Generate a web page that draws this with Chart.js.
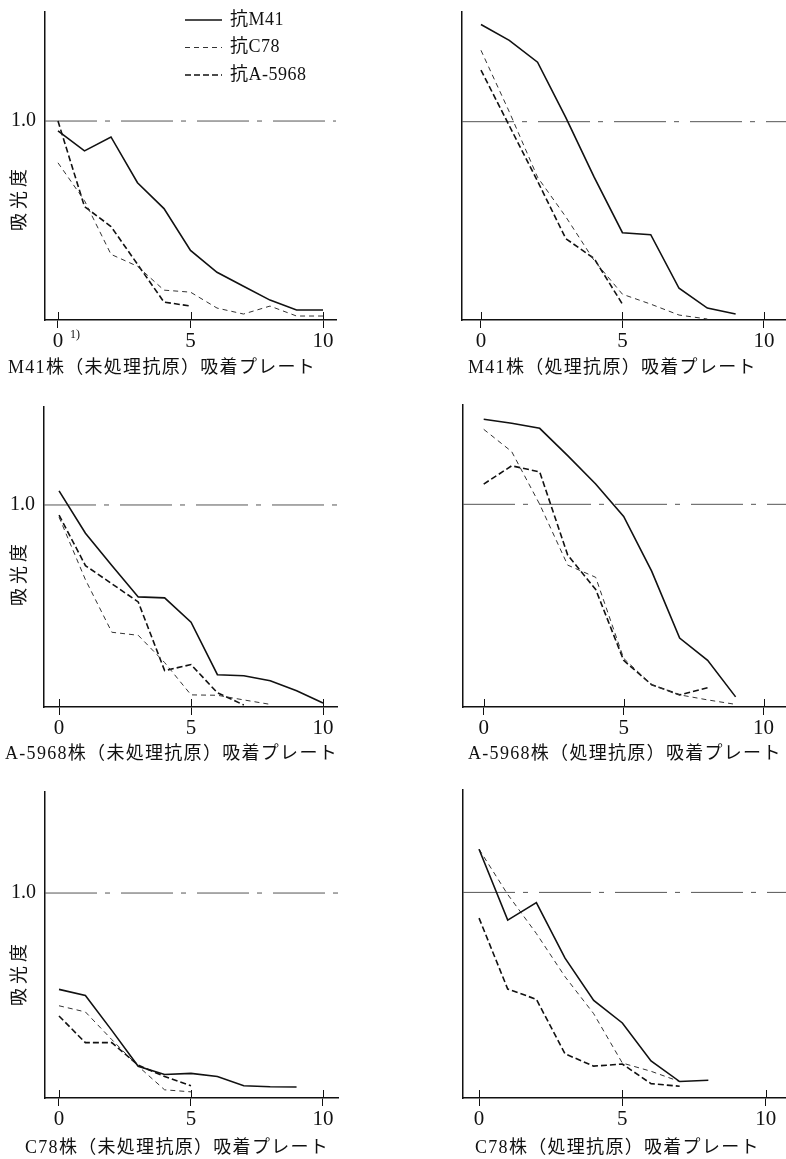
<!DOCTYPE html>
<html lang="ja">
<head>
<meta charset="utf-8">
<title>吸光度 / 吸着プレート</title>
<script src="https://cdn.jsdelivr.net/npm/chart.js@4.4.1/dist/chart.umd.min.js"></script>
<style>
  html, body { margin: 0; padding: 0; background: #fff; }
  body { width: 786px; height: 1159px; position: relative; overflow: hidden; }
  canvas { position: absolute; }
</style>
</head>
<body>
<canvas id="c1"></canvas>
<canvas id="c2"></canvas>
<canvas id="c3"></canvas>
<canvas id="c4"></canvas>
<canvas id="c5"></canvas>
<canvas id="c6"></canvas>
<script>
'use strict';

// x = plate number (0, 1, 2 ...), y = absorbance
const xTicks = [0, 5, 10];
const refLevel = 1.0;
const yTickLabel = '1.0';
const yTitle = '吸光度';
const seriesNames = ['抗M41', '抗C78', '抗A-5968'];
const plateTitles = [
  'M41株（未処理抗原）吸着プレート',
  'M41株（処理抗原）吸着プレート',
  'A-5968株（未処理抗原）吸着プレート',
  'A-5968株（処理抗原）吸着プレート',
  'C78株（未処理抗原）吸着プレート',
  'C78株（処理抗原）吸着プレート'
];

// M41 untreated
const p1M41   = [0.95, 0.85, 0.92, 0.69, 0.56, 0.35, 0.24, 0.17, 0.10, 0.05, 0.05];
const p1C78   = [0.79, 0.60, 0.33, 0.27, 0.15, 0.14, 0.06, 0.03, 0.07, 0.02, 0.02];
const p1A5968 = [1.00, 0.57, 0.47, 0.28, 0.09, 0.07];
// M41 treated
const p2M41   = [1.49, 1.41, 1.30, 1.02, 0.72, 0.44, 0.43, 0.16, 0.06, 0.03];
const p2C78   = [1.36, 1.05, 0.72, 0.52, 0.30, 0.13, 0.08, 0.025, 0.005];
const p2A5968 = [1.26, 0.98, 0.70, 0.41, 0.31, 0.08];
// A-5968 untreated
const p3M41   = [1.07, 0.86, 0.70, 0.545, 0.54, 0.42, 0.16, 0.155, 0.13, 0.08, 0.02];
const p3C78   = [0.94, 0.63, 0.37, 0.355, 0.22, 0.06, 0.058, 0.035, 0.013];
const p3A5968 = [0.95, 0.70, 0.61, 0.52, 0.18, 0.21, 0.07, 0.01];
// A-5968 treated
const p4M41   = [1.42, 1.40, 1.375, 1.24, 1.10, 0.94, 0.67, 0.34, 0.23, 0.05];
const p4C78   = [1.37, 1.26, 1.00, 0.70, 0.64, 0.24, 0.11, 0.06, 0.035, 0.013];
const p4A5968 = [1.10, 1.19, 1.16, 0.75, 0.58, 0.23, 0.11, 0.06, 0.095];
// C78 untreated
const p5M41   = [0.53, 0.50, 0.33, 0.155, 0.115, 0.12, 0.105, 0.06, 0.055, 0.054];
const p5C78   = [0.45, 0.42, 0.285, 0.155, 0.04, 0.03];
const p5A5968 = [0.40, 0.27, 0.27, 0.16, 0.105, 0.06];
// C78 treated
const p6M41   = [1.21, 0.865, 0.95, 0.68, 0.475, 0.365, 0.18, 0.08, 0.086];
const p6C78   = [1.21, 0.99, 0.80, 0.59, 0.41, 0.17, 0.13, 0.08];
const p6A5968 = [0.875, 0.53, 0.48, 0.215, 0.155, 0.165, 0.07, 0.057];

var SERIF = '"Liberation Serif", "DejaVu Serif", "Noto Sans CJK JP", serif';
var INK = '#111';
var X_AXIS_H = 40;   // room below the plot for tick labels

var lineStyles = [
  { color: '#111', width: 1.6, dash: [] },
  { color: '#333', width: 1,   dash: [5, 4] },
  { color: '#111', width: 1.6, dash: [6, 3] }
];

// box = canvas [left, top, w, h], area = plot area [l, t, r, b] (page px)
var panels = [
  { id: 'c1', box: [0, 0, 393, 385],     area: [45, 12, 336, 320],    x: [-0.49, 10.49], yMax: 1.548,
    series: [p1M41, p1C78, p1A5968], left: true,  legend: true, note: true, tdx: -37, tdy: 48, ylY: 198 },
  { id: 'c2', box: [393, 0, 393, 385],   area: [462, 12, 786, 320],   x: [-0.67, 10.78], yMax: 1.553,
    series: [p2M41, p2C78, p2A5968], left: false, tdx: 6, tdy: 48 },
  { id: 'c3', box: [0, 385, 393, 385],   area: [44, 407, 337, 707],   x: [-0.57, 10.53], yMax: 1.485,
    series: [p3M41, p3C78, p3A5968], left: true,  tdx: -39, tdy: 47, ylY: 188 },
  { id: 'c4', box: [393, 385, 393, 385], area: [463, 405, 786, 707],  x: [-0.74, 10.8],  yMax: 1.49,
    series: [p4M41, p4C78, p4A5968], left: false, tdx: 5, tdy: 47 },
  { id: 'c5', box: [0, 770, 393, 389],   area: [45, 792, 338, 1098],  x: [-0.53, 10.57], yMax: 1.493,
    series: [p5M41, p5C78, p5A5968], left: true,  tdx: -20, tdy: 50, ylY: 203 },
  { id: 'c6', box: [393, 770, 393, 389], area: [463, 790, 786, 1098], x: [-0.56, 10.71], yMax: 1.498,
    series: [p6M41, p6C78, p6A5968], left: false, tdx: 12, tdy: 50 }
];

// text + small marks that the axes don't give us
var decor = {
  id: 'decor',
  afterDraw: function (chart, args, o) {
    var ctx = chart.ctx, a = chart.chartArea, sx = chart.scales.x;
    ctx.save();
    ctx.strokeStyle = INK;
    ctx.lineWidth = 1;
    xTicks.forEach(function (v) {
      var px = Math.round(sx.getPixelForValue(v)) + 0.5;
      ctx.beginPath(); ctx.moveTo(px, a.bottom - 8); ctx.lineTo(px, a.bottom); ctx.stroke();
    });

    ctx.fillStyle = INK;
    ctx.textBaseline = 'middle';
    ctx.textAlign = 'left';
    ctx.font = '18px ' + SERIF;
    ctx.letterSpacing = '1.3px';
    ctx.fillText(o.title, a.left + o.tdx, a.bottom + o.tdy);

    if (o.left) {
      ctx.save();
      ctx.translate(20, o.ylY);
      ctx.rotate(-Math.PI / 2);
      ctx.textAlign = 'center';
      ctx.letterSpacing = '4px';
      ctx.fillText(yTitle, 0, 0);
      ctx.restore();
    }

    if (o.note) {
      ctx.letterSpacing = '0px';
      ctx.font = '12px ' + SERIF;
      ctx.fillText('1)', sx.getPixelForValue(0) + 12, a.bottom + 15);
    }

    if (o.legend) {
      ctx.letterSpacing = '0.5px';
      ctx.font = '18px ' + SERIF;
      seriesNames.forEach(function (name, i) {
        var ly = 20 + i * 27.5, st = lineStyles[i];
        ctx.strokeStyle = st.color;
        ctx.lineWidth = st.width;
        ctx.setLineDash(st.dash);
        ctx.beginPath(); ctx.moveTo(185, ly); ctx.lineTo(222, ly); ctx.stroke();
        ctx.fillText(name, 230, ly);
      });
    }
    ctx.restore();
  }
};

function toPoints(arr) {
  return arr.map(function (v, k) { return { x: k, y: v }; });
}

function build(p, idx) {
  var cv = document.getElementById(p.id);
  cv.width = p.box[2]; cv.height = p.box[3];
  cv.style.left = p.box[0] + 'px'; cv.style.top = p.box[1] + 'px';
  var yW = p.left ? 44 : 20;

  var datasets = p.series.map(function (arr, i) {
    var st = lineStyles[i];
    return {
      label: seriesNames[i], data: toPoints(arr),
      borderColor: st.color, borderWidth: st.width, borderDash: st.dash,
      pointRadius: 0, tension: 0, fill: false
    };
  });
  // 1.0 reference, dash-dot
  datasets.push({
    label: 'ref', data: [{ x: p.x[0], y: refLevel }, { x: p.x[1], y: refLevel }],
    borderColor: '#555', borderWidth: 1, borderDash: [52, 8, 5, 11],
    pointRadius: 0, fill: false
  });

  new Chart(cv, {
    type: 'line',
    data: { datasets: datasets },
    options: {
      responsive: false, animation: false, events: [],
      layout: { padding: {
        left: p.area[0] - p.box[0] - yW, top: p.area[1] - p.box[1],
        right: p.box[0] + p.box[2] - p.area[2], bottom: p.box[1] + p.box[3] - p.area[3] - X_AXIS_H
      } },
      plugins: {
        legend: { display: false }, tooltip: { enabled: false },
        decor: { title: plateTitles[idx], tdx: p.tdx, tdy: p.tdy, left: p.left, ylY: p.ylY,
                 note: !!p.note, legend: !!p.legend }
      },
      scales: {
        x: {
          type: 'linear', min: p.x[0], max: p.x[1],
          afterFit: function (s) { s.height = X_AXIS_H; s.paddingLeft = 0; s.paddingRight = 0; },
          afterBuildTicks: function (s) { s.ticks = xTicks.map(function (v) { return { value: v }; }); },
          grid: { drawOnChartArea: false, tickLength: 8, color: INK, lineWidth: 1 },
          border: { color: INK, width: 1.5 },
          ticks: { color: INK, font: { family: SERIF, size: 21 }, padding: 1, maxRotation: 0, autoSkip: false }
        },
        y: {
          type: 'linear', min: 0, max: p.yMax,
          afterFit: function (s) { s.width = yW; s.paddingTop = 0; s.paddingBottom = 0; },
          afterBuildTicks: function (s) { s.ticks = p.left ? [{ value: refLevel }] : []; },
          grid: { drawOnChartArea: false, drawTicks: false },
          border: { color: INK, width: 1.5 },
          ticks: { display: p.left, color: INK, font: { family: SERIF, size: 20 }, padding: 9,
                   callback: function () { return yTickLabel; } }
        }
      }
    },
    plugins: [decor]
  });
}

panels.forEach(build);
</script>
</body>
</html>
